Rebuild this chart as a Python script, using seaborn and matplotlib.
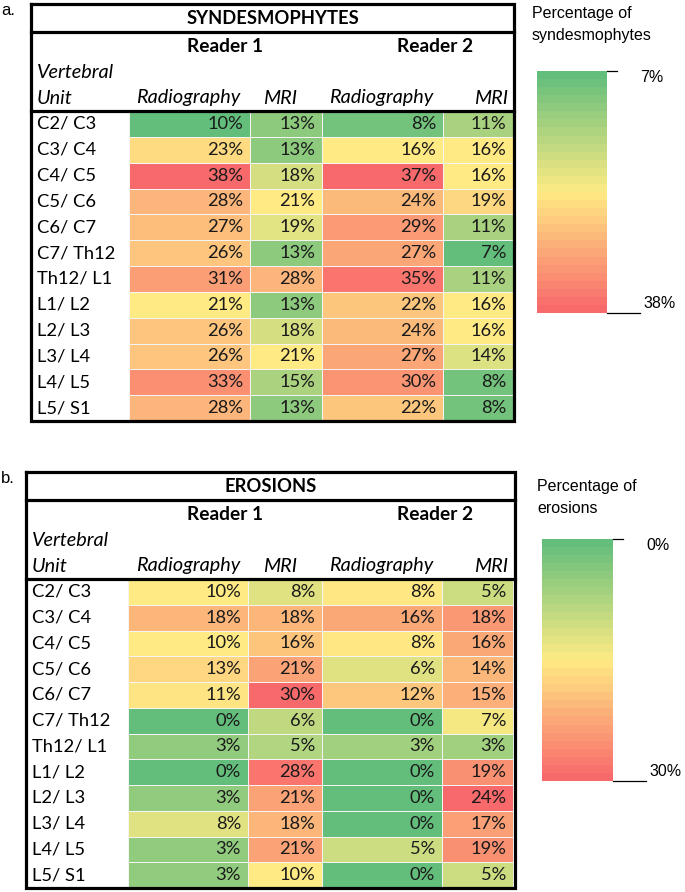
"""Syndesmophytes / erosions per vertebral unit, Excel-style colour tables."""

import numpy as np
import pandas as pd
import matplotlib.pyplot as plt
from matplotlib.colors import LinearSegmentedColormap, TwoSlopeNorm
import seaborn as sns

# ---- data ----
units = ["C2/ C3", "C3/ C4", "C4/ C5", "C5/ C6", "C6/ C7", "C7/ Th12",
         "Th12/ L1", "L1/ L2", "L2/ L3", "L3/ L4", "L4/ L5", "L5/ S1"]

syn_r1_rad = [10, 23, 38, 28, 27, 26, 31, 21, 26, 26, 33, 28]
syn_r1_mri = [13, 13, 18, 21, 19, 13, 28, 13, 18, 21, 15, 13]
syn_r2_rad = [8, 16, 37, 24, 29, 27, 35, 22, 24, 27, 30, 22]
syn_r2_mri = [11, 16, 16, 19, 11, 7, 11, 16, 16, 14, 8, 8]

ero_r1_rad = [10, 18, 10, 13, 11, 0, 3, 0, 3, 8, 3, 3]
ero_r1_mri = [8, 18, 16, 21, 30, 6, 5, 28, 21, 18, 21, 10]
ero_r2_rad = [8, 16, 8, 6, 12, 0, 3, 0, 0, 0, 5, 0]
ero_r2_mri = [5, 18, 16, 14, 15, 7, 3, 19, 24, 17, 19, 5]

syn_legend = ["7%", "38%"]
ero_legend = ["0%", "30%"]

# Excel 3-colour scale: green - yellow - red
excel_cmap = LinearSegmentedColormap.from_list(
    "excel", ["#63BE7B", "#FFEB84", "#F8696B"])

plt.rcParams['font.family'] = ['Lato', 'DejaVu Sans']
CELL_FONT = 13.2
ITAL_FONT = 14.3
LEG_FONT = ['Liberation Sans', 'DejaVu Sans']

W, H = 685, 892
fig = plt.figure(figsize=(W / 100, H / 100), dpi=100)


def px_axes(x0, y0, x1, y1):
    return fig.add_axes([x0 / W, 1 - y1 / H, (x1 - x0) / W, (y1 - y0) / H])


# overlay in pixel coordinates for frames and text
ov = fig.add_axes([0, 0, 1, 1], zorder=10)
ov.set_xlim(0, W)
ov.set_ylim(H, 0)
ov.axis('off')
ov.patch.set_alpha(0)


def draw_column(values, norm, box):
    x0, y0, x1, y1 = box
    ax = px_axes(x0, y0, x1, y1)
    df = pd.DataFrame({"v": values})
    labels = np.array([[f"{v}%"] for v in values])
    sns.heatmap(df, ax=ax, cmap=excel_cmap, norm=norm, cbar=False,
                annot=labels, fmt="", xticklabels=False, yticklabels=False,
                linewidths=0.4, linecolor="#f4f4f4",
                annot_kws={"color": "#1a1a1a", "fontsize": CELL_FONT})
    pad = 7 / (x1 - x0)
    for t in ax.texts:
        t.set_ha("right")
        t.set_x(1 - pad)
    ax.set_xlabel("")
    ax.set_ylabel("")


def draw_table(title, reader1, reader2, left, right, top, bottom, cols, tag):
    title_bot = top + 28
    head_bot = top + 107
    # colour columns, one norm per reader (min / median / max)
    for (rad, mri), (c0, c1, c2) in [(reader1, cols[0:3]), (reader2, cols[2:5])]:
        allv = np.array(rad + mri)
        norm = TwoSlopeNorm(vmin=allv.min(), vcenter=np.median(allv),
                            vmax=allv.max())
        draw_column(rad, norm, (c0, head_bot, c1, bottom))
        draw_column(mri, norm, (c1, head_bot, c2, bottom))

    # frame
    ov.plot([left, right, right, left, left], [top, top, bottom, bottom, top],
            color="black", lw=2.3, solid_joinstyle="miter")
    ov.plot([left, right], [title_bot, title_bot], color="black", lw=2.3)
    ov.plot([left, right], [head_bot, head_bot], color="black", lw=2.3)

    ov.text(1, top + 11, tag, fontsize=12, family=LEG_FONT, va="baseline")
    ov.text((left + right) / 2, top + 14, title, fontsize=CELL_FONT,
            weight="bold", ha="center", va="center")
    ov.text(225, top + 43, "Reader 1", fontsize=CELL_FONT + 0.6, weight="bold",
            ha="center", va="center")
    ov.text(435, top + 43, "Reader 2", fontsize=CELL_FONT + 0.6, weight="bold",
            ha="center", va="center")
    ov.text(left + 6, top + 68, "Vertebral", fontsize=ITAL_FONT,
            style="italic", va="center")
    ov.text(left + 6, top + 94, "Unit", fontsize=ITAL_FONT,
            style="italic", va="center")
    for x, lab in [(188, "Radiography"), (280, "MRI"),
                   (381, "Radiography"), (491, "MRI")]:
        ov.text(x, top + 94, lab, fontsize=ITAL_FONT, style="italic",
                ha="center", va="center")

    row_h = (bottom - head_bot) / len(units)
    for i, u in enumerate(units):
        ov.text(left + 6, head_bot + row_h * (i + 0.5), u,
                fontsize=CELL_FONT, va="center")


def draw_legend(title_lines, labels, x0, y0, x1, y1, title_y):
    ax = px_axes(x0, y0, x1, y1)
    grad = pd.DataFrame({"g": np.linspace(0, 1, 30)})
    sns.heatmap(grad, ax=ax, cmap=excel_cmap, vmin=0, vmax=1, cbar=False,
                xticklabels=False, yticklabels=False,
                linewidths=0.5, linecolor="face")
    ax.set_xlabel("")
    ax.set_ylabel("")
    for k, line in enumerate(title_lines):
        ov.text(x0 - 5, title_y + 22 * k, line, fontsize=11.5,
                family=LEG_FONT, va="baseline")
    ov.plot([x1, x1 + 10], [y0, y0], color="black", lw=0.9)
    ov.plot([x1, x1 + 33], [y1, y1], color="black", lw=0.9)
    ov.text(x1 + 33, y0 + 7, labels[0], fontsize=11.5, family=LEG_FONT,
            va="center")
    ov.text(x1 + 36, y1 - 9, labels[1], fontsize=11.5, family=LEG_FONT,
            va="center")


draw_table("SYNDESMOPHYTES", (syn_r1_rad, syn_r1_mri), (syn_r2_rad, syn_r2_mri),
           31, 514, 4, 421, [129, 250, 322, 443, 513], "a.")
draw_table("EROSIONS", (ero_r1_rad, ero_r1_mri), (ero_r2_rad, ero_r2_mri),
           26, 515, 472, 888, [128, 248, 322, 442, 513], "b.")

draw_legend(["Percentage of", "syndesmophytes"], syn_legend,
            537, 71, 607, 313, 18)
draw_legend(["Percentage of", "erosions"], ero_legend,
            542, 539, 613, 781, 491)

fig.savefig("out.png", dpi=100)
